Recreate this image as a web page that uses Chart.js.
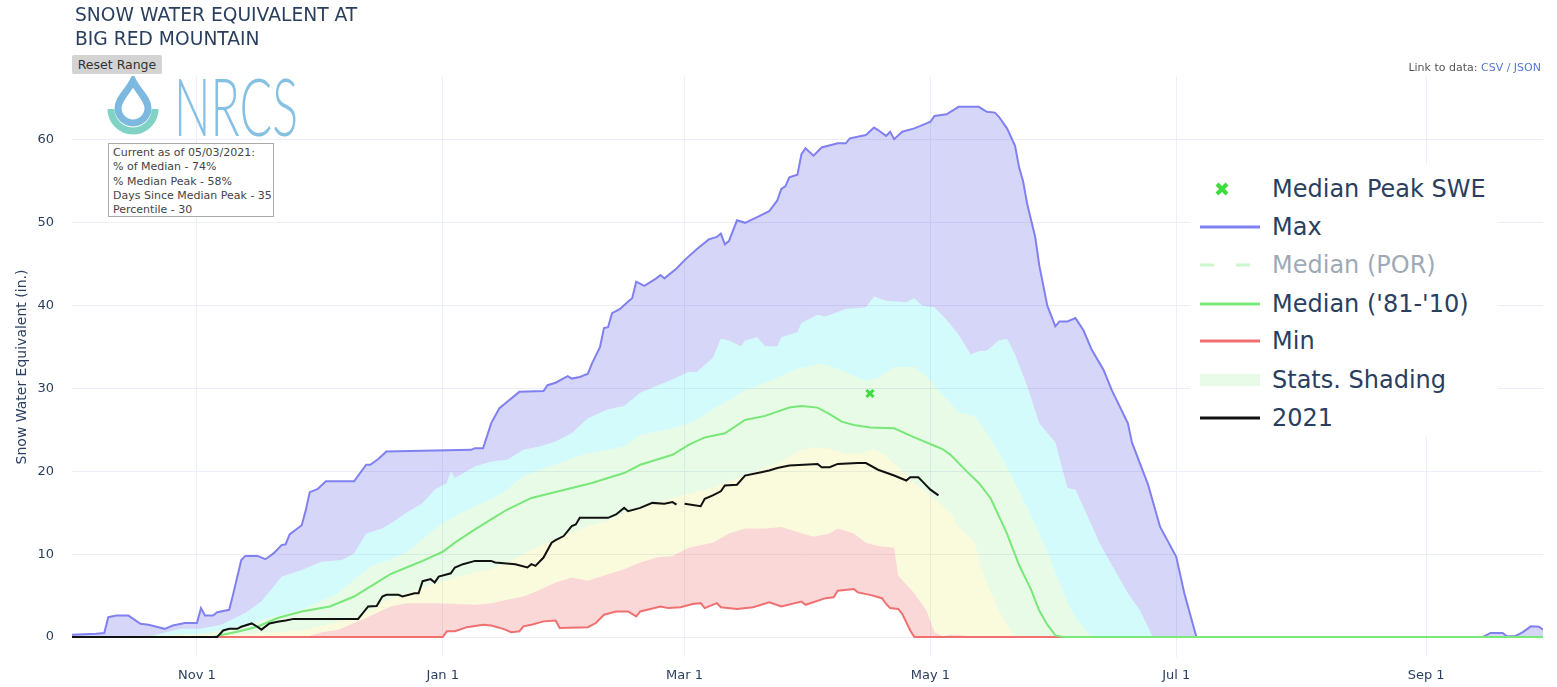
<!DOCTYPE html>
<html>
<head>
<meta charset="utf-8">
<script src="https://cdn.jsdelivr.net/npm/chart.js@4.4.0/dist/chart.umd.min.js"></script>
<style>
html, body { margin: 0; padding: 0; background: #fff; }
#wrap { position: relative; width: 1557px; height: 687px; font-family: Verdana, "DejaVu Sans", sans-serif; color: #2a3f5f; }
#chart { position: absolute; left: 0; top: 0; }
.title { position: absolute; left: 75px; top: 3px; font-size: 18.7px; line-height: 24px; }
.reset { position: absolute; left: 72px; top: 55px; width: 90px; height: 19px; background: #d3d3d3; border-radius: 2px; font-size: 12.5px; line-height: 19px; text-align: center; color: #333; }
.logo { position: absolute; left: 100px; top: 76px; }
.info { position: absolute; left: 108px; top: 143px; width: 156px; height: 68px; border: 1px solid #aaa; background: #fff; padding: 2px 4px; font-size: 11px; line-height: 14.3px; color: #444; white-space: nowrap; }
.link { position: absolute; right: 16px; top: 61px; font-size: 11px; color: #555; }
.link span { color: #5577cc; }
.legend { position: absolute; left: 1190px; top: 165px; width: 308px; height: 272px; background: #fff; }
.row { position: absolute; left: 0; height: 38px; width: 308px; font-size: 24px; line-height: 38px; }
.row .sym { position: absolute; left: 10px; top: 0; width: 60px; height: 38px; }
.row .txt { position: absolute; left: 82px; top: 0; white-space: nowrap; }
.off { opacity: 0.45; }
</style>
</head>
<body>
<div id="wrap">
  <canvas id="chart" width="1557" height="687"></canvas>
  <div class="title">SNOW WATER EQUIVALENT AT<br>BIG RED MOUNTAIN</div>
  <div class="reset">Reset Range</div>
  <svg class="logo" width="210" height="66" viewBox="100 76 210 66">
    <path d="M133 81 C128 91 118 99 118 108 A15 15 0 0 0 148 108 C148 99 138 91 133 81 Z" fill="none" stroke="#7db9df" stroke-width="7"/>
    <path d="M111 109 A22 22 0 0 0 155 109" fill="none" stroke="#80d3c4" stroke-width="7"/>
    <text x="174" y="136" font-family="Lato" font-weight="300" font-size="80" textLength="124" lengthAdjust="spacingAndGlyphs" fill="#86c0e2">NRCS</text>
  </svg>
  <div class="info">Current as of 05/03/2021:<br>% of Median - 74%<br>% Median Peak - 58%<br>Days Since Median Peak - 35<br>Percentile - 30</div>
  <div class="link">Link to data: <span>CSV / JSON</span></div>
  <div class="legend">
    <div class="row" style="top:5px"><svg class="sym" viewBox="0 0 60 38"><path d="M17 14 L27 24 M27 14 L17 24" stroke="#3ddc3d" stroke-width="4"/></svg><span class="txt">Median Peak SWE</span></div>
    <div class="row" style="top:43px"><svg class="sym" viewBox="0 0 60 38"><path d="M0 19 H60" stroke="#8080f0" stroke-width="3"/></svg><span class="txt">Max</span></div>
    <div class="row off" style="top:81px"><svg class="sym" viewBox="0 0 60 38"><path d="M0 19 H60" stroke="#90ee90" stroke-width="3" stroke-dasharray="14 22"/></svg><span class="txt">Median (POR)</span></div>
    <div class="row" style="top:120px"><svg class="sym" viewBox="0 0 60 38"><path d="M0 19 H60" stroke="#78e878" stroke-width="3"/></svg><span class="txt">Median ('81-'10)</span></div>
    <div class="row" style="top:157px"><svg class="sym" viewBox="0 0 60 38"><path d="M0 19 H60" stroke="#f07070" stroke-width="3"/></svg><span class="txt">Min</span></div>
    <div class="row" style="top:196px"><svg class="sym" viewBox="0 0 60 38"><rect x="0" y="13" width="60" height="12" fill="#e8fae8"/></svg><span class="txt">Stats. Shading</span></div>
    <div class="row" style="top:234px"><svg class="sym" viewBox="0 0 60 38"><path d="M0 19 H60" stroke="#111" stroke-width="3"/></svg><span class="txt">2021</span></div>
  </div>
</div>
<script>
// day 0 = Oct 1 (water year, leap year axis)
const tickDays = [31, 92, 152, 213, 274, 336];
const tickLabels = ['Nov 1', 'Jan 1', 'Mar 1', 'May 1', 'Jul 1', 'Sep 1'];

const maxDays = [0,6,8,9,11,14,17,19,23,25,28,31,32,33,35,36,39,40,42,43,46,48,50,52,53,54,57,58,59,61,63,70,73,74,76,78,87,99,100,102,104,106,108,111,117,118,120,123,124,126,128,129,131,132,133,134,136,138,139,140,142,145,146,147,150,152,155,158,160,161,162,163,165,167,170,173,175,176,177,178,180,181,182,184,186,190,192,193,197,199,200,202,203,204,206,209,211,213,214,217,220,225,227,229,230,232,234,235,236,237,239,240,242,244,245,247,249,251,253,256,258,262,263,267,270,274,276,279,350,352,355,356,358,360,362,364,365];
const maxSwe = [0.3,0.4,0.5,2.4,2.6,2.6,1.6,1.5,1.0,1.4,1.7,1.7,3.5,2.6,2.6,3.0,3.3,5.2,9.3,9.8,9.8,9.4,10.1,11.1,11.2,12.4,13.5,15.3,17.5,17.9,18.8,18.8,20.8,20.8,21.5,22.4,22.5,22.6,22.8,22.8,25.8,27.6,28.4,29.6,29.7,30.4,30.7,31.5,31.2,31.4,31.8,33.0,35.0,37.3,37.4,39.1,39.6,40.5,40.9,42.9,42.4,43.3,43.7,43.3,44.5,45.5,46.8,48.0,48.3,48.7,47.4,47.8,50.3,50.0,50.7,51.4,52.7,54.1,54.4,55.5,55.8,58.3,59.0,58.1,59.1,59.6,59.6,60.2,60.6,61.5,61.2,60.5,61.0,60.1,61.0,61.4,61.8,62.2,62.9,63.1,64.0,64.0,63.4,63.3,62.8,61.4,59.3,56.7,55.0,52.3,48.3,44.9,40.0,37.5,38.1,38.1,38.5,37.0,34.7,32.2,29.8,25.8,23.5,18.4,13.3,9.7,5.3,0,0,0.5,0.5,0.1,0.1,0.6,1.3,1.25,0.9];

const p90Days = [0,20,27,32,37,43,47,52,57,62,67,70,73,77,80,83,87,90,93,94,95,100,104,108,112,116,120,124,128,133,137,141,145,149,153,155,159,161,163,166,167,170,172,175,176,180,181,185,187,192,197,199,202,207,209,211,214,217,220,223,225,227,230,232,234,237,240,244,247,249,252,255,258,262,265,268,269,365];
const p90Swe = [0,0.2,1.0,1.0,1.5,2.9,4.3,7.3,8.1,9.1,9.3,10.1,12.5,13.1,14.0,15.0,16.2,17.8,18.6,20.0,19.2,20.6,21.2,21.4,22.6,23.0,23.6,24.6,26.4,27.5,27.9,29.5,30.3,31.1,32.0,32.0,33.7,36.0,35.8,35.1,35.8,36.2,35.1,35.1,36.2,36.8,37.9,38.9,38.7,39.6,39.8,41.1,40.6,40.4,40.9,40.0,39.8,38.3,36.5,34.1,34.5,34.6,35.8,36.0,34.1,30.3,25.8,23.5,18.0,17.8,14.6,11.3,8.7,5.3,3.2,0.2,0,0];

const p70Days = [0,16,32,41,49,57,66,70,74,79,83,87,91,95,100,104,108,112,116,120,124,128,133,137,141,145,149,153,155,159,163,167,172,176,180,186,190,194,197,200,204,209,212,215,220,224,228,232,235,238,242,244,247,249,252,253,365];
const p70Swe = [0,0.05,0.4,1.25,2.3,3.3,5.3,6.9,8.5,9.4,10.2,11.8,13.4,14.6,15.8,16.6,17.8,19.4,20.2,20.8,21.6,22.2,22.6,23.0,24.4,24.8,25.2,25.8,26.2,27.5,28.6,29.8,30.7,31.5,32.4,33.0,32.4,31.5,30.9,31.3,32.6,32.6,31.5,29.8,27.1,26.7,23.9,20.5,17.6,14.6,10.4,7.8,4.2,2.3,0.6,0,0];

const p30Days = [0,45,57,71,79,83,87,91,95,100,104,108,112,116,120,124,128,133,137,141,145,149,153,155,159,163,167,171,176,180,184,188,192,196,199,202,205,208,212,215,218,220,224,226,228,230,233,234,365];
const p30Swe = [0,0.4,0.8,2.4,4.7,5.3,6.0,6.6,7.2,7.8,8.2,9.0,10.0,11.0,11.8,12.6,13.4,14.0,15.0,15.8,16.2,16.8,17.3,17.6,18.0,18.8,19.5,20.3,21.2,22.4,22.9,22.7,22.2,22.2,22.7,21.8,20.5,19.0,17.5,16.3,15.0,13.3,11.4,7.8,5.3,3.2,0.6,0,0];

const p10Days = [0,58,62,66,72,79,83,91,100,104,108,112,116,120,124,128,133,137,141,145,149,153,155,159,163,167,172,176,180,184,188,190,194,197,200,204,205,209,212,214,216,218,220,223,365];
const p10Swe = [0,0,0.6,0.9,2.1,3.7,4.1,4.1,3.9,4.1,4.5,4.9,5.7,6.6,7.2,6.8,7.6,8.2,9.0,9.6,9.8,10.8,11.0,11.4,12.5,13.1,13.1,13.3,12.7,12.1,12.5,13.1,12.5,11.4,11.0,10.8,7.4,5.3,3.2,0.6,0.1,0.3,0.3,0,0];

const minDays = [0,92,93,95,98,102,104,107,109,111,112,114,117,120,121,128,130,132,135,138,140,141,146,148,151,154,156,157,160,161,165,169,173,176,181,182,187,189,190,194,195,198,201,202,203,205,206,208,209,365];
const minSwe = [0,0,0.7,0.7,1.2,1.5,1.4,1.0,0.6,0.7,1.3,1.5,1.9,2.0,1.1,1.2,1.7,2.7,3.1,3.1,2.5,3.1,3.7,3.5,3.6,4.0,4.1,3.5,4.1,3.6,3.4,3.6,4.2,3.7,4.3,3.9,4.7,4.8,5.6,5.8,5.4,5.1,4.7,4.0,3.5,3.4,2.8,0.8,0,0];

const medDays = [0,35,37,41,46,51,57,64,70,76,79,83,87,92,95,100,104,108,114,119,124,129,133,137,141,145,149,153,157,162,167,172,178,181,185,188,191,194,198,204,209,214,216,218,222,225,228,232,235,238,240,242,244,246,365];
const medSwe = [0,0,0.25,0.65,1.25,2.3,3.1,3.7,4.9,6.7,7.6,8.4,9.2,10.3,11.4,13.0,14.2,15.4,16.8,17.4,18.0,18.6,19.2,19.8,20.8,21.4,22.0,23.2,24.1,24.6,26.2,26.7,27.7,27.9,27.7,26.9,26.0,25.6,25.3,25.2,24.1,23.1,22.7,22.0,20.0,18.6,16.7,12.5,8.7,5.7,3.2,1.5,0.2,0,0];

const wy2021Days = [0,36,37.5,39,41,42,44.6,46,47,49,51,53,55,71,72,73.5,75.6,77,78,81,82,85,86,87,89,90,91,94,95,97,100,104,105,110,113,114,115,117,119,120,122,124,125,126,133,135,137,138,141,144,147,149,150,151,152,156,157,159,161,162,165,167,171,173,175,178,185,186,188,190,195,197,200,204,207,208,210,211,213,215];
const wy2021Swe = [0,0,0.8,1.0,1.0,1.25,1.65,1.25,0.9,1.65,1.85,2.0,2.2,2.2,2.8,3.7,3.75,4.9,5.1,5.1,4.9,5.3,5.3,6.75,7.0,6.6,7.3,7.7,8.4,8.8,9.2,9.2,9.0,8.8,8.4,8.8,8.6,9.6,11.4,11.7,12.2,13.4,13.6,14.4,14.4,14.8,15.6,15.2,15.6,16.2,16.1,16.3,16.0,null,16.1,15.8,16.7,17.1,17.6,18.3,18.4,19.5,19.9,20.1,20.4,20.7,20.9,20.5,20.5,20.9,21.0,21.0,20.2,19.5,18.9,19.3,19.3,18.8,17.8,17.1];

const peakDay = [198];
const peakSwe = [29.4];

const yTicks = [0, 10, 20, 30, 40, 50, 60];

const axisFont = 'Verdana, "DejaVu Sans", sans-serif';

function pts(days, vals) {
  return days.map((d, i) => ({ x: d, y: vals[i] }));
}

function band(data, target, color) {
  return {
    data: data, fill: { target: target }, backgroundColor: color,
    borderWidth: 0, borderColor: 'transparent', pointRadius: 0, order: 5
  };
}

new Chart('chart', {
  type: 'line',
  data: {
    datasets: [
      { label: 'Min', data: pts(minDays, minSwe), borderColor: '#f07070', borderWidth: 2, fill: false, pointRadius: 0, order: 2 },
      band(pts(p10Days, p10Swe), 0, 'rgba(230,60,60,0.2)'),
      band(pts(p30Days, p30Swe), 1, 'rgba(230,230,60,0.18)'),
      band(pts(p70Days, p70Swe), 2, 'rgba(60,220,60,0.12)'),
      band(pts(p90Days, p90Swe), 3, 'rgba(0,230,230,0.17)'),
      { label: 'Max', data: pts(maxDays, maxSwe), borderColor: '#8080f0', borderWidth: 2, fill: { target: 4 }, backgroundColor: 'rgba(50,50,220,0.2)', pointRadius: 0, order: 3 },
      { label: "Median ('81-'10)", data: pts(medDays, medSwe), borderColor: '#78e878', borderWidth: 2, fill: false, pointRadius: 0, order: 1 },
      { label: '2021', data: pts(wy2021Days, wy2021Swe), borderColor: '#111', borderWidth: 2, fill: false, pointRadius: 0, spanGaps: false, order: 0 },
      { label: 'Median Peak SWE', data: pts(peakDay, peakSwe), showLine: false, pointStyle: 'crossRot', pointRadius: 5, pointBorderWidth: 3, pointBorderColor: '#3ddc3d', order: 0 }
    ]
  },
  options: {
    responsive: false,
    animation: false,
    devicePixelRatio: 1,
    layout: { padding: { left: 0, right: 14, top: 77, bottom: 0 } },
    elements: { line: { tension: 0 } },
    plugins: {
      legend: { display: false },
      tooltip: { enabled: false },
      filler: { drawTime: 'beforeDatasetsDraw' }
    },
    scales: {
      x: {
        type: 'linear', min: 0, max: 365,
        border: { display: false },
        grid: { color: '#ebf0f8', drawTicks: false },
        ticks: {
          padding: 11, color: '#2a3f5f', maxRotation: 0,
          font: { family: axisFont, size: 13 },
          callback: v => tickLabels[tickDays.indexOf(v)]
        },
        afterBuildTicks: s => { s.ticks = tickDays.map(v => ({ value: v })); },
        afterFit: s => { s.height = 30; }
      },
      y: {
        min: -2.4, max: 67.6,
        border: { display: false },
        grid: { color: '#ebf0f8', drawTicks: false },
        ticks: {
          padding: 18, color: '#2a3f5f',
          font: { family: axisFont, size: 13 }
        },
        title: {
          display: true, text: 'Snow Water Equivalent (in.)', color: '#2a3f5f',
          font: { family: axisFont, size: 14 },
          padding: { top: 14 }
        },
        afterBuildTicks: s => { s.ticks = yTicks.map(v => ({ value: v })); },
        afterFit: s => { s.width = 72; }
      }
    }
  }
});
</script>
</body>
</html>
